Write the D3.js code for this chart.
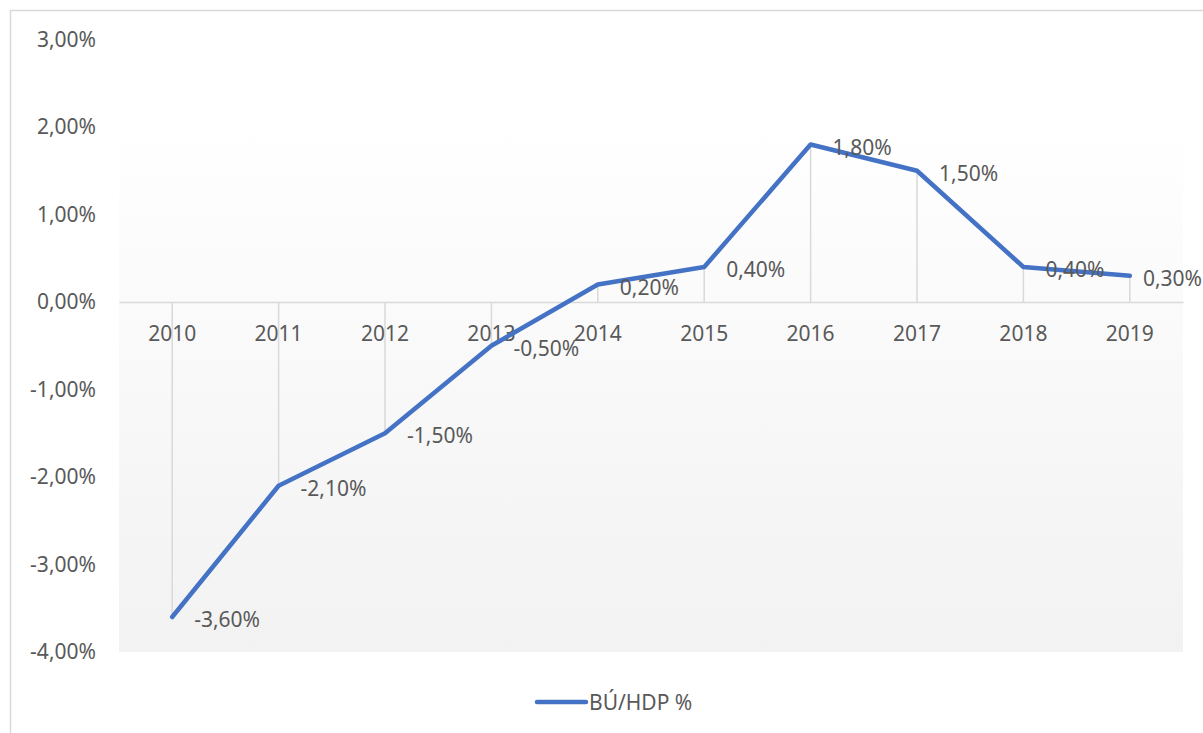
<!DOCTYPE html>
<html>
<head>
<meta charset="utf-8">
<script src="https://cdn.jsdelivr.net/npm/d3@7"></script>
<style>
  body { margin: 0; background: #fff; }
  text { font-family: "Noto Sans", "Open Sans", sans-serif; fill: #595959; }
</style>
</head>
<body>
<div id="chart"></div>
<script>
// Data
var years = ['2010', '2011', '2012', '2013', '2014', '2015', '2016', '2017', '2018', '2019'];
var values = [-3.6, -2.1, -1.5, -0.5, 0.2, 0.4, 1.8, 1.5, 0.4, 0.3];
var yTicks = [3, 2, 1, 0, -1, -2, -3, -4];
var seriesName = 'BÚ/HDP %';

// Variables
var width = 1203;
var height = 733;
var plotLeft = 119, plotRight = 1183, plotTop = 39.5, plotBottom = 652;
var lineColor = '#4472c4';
var gridColor = '#d9d9d9';

// 1.5 -> "1,50%", plain hyphen for negatives
function fmt(v) {
  return (v < 0 ? '-' : '') + Math.abs(v).toFixed(2).replace('.', ',') + '%';
}

var svg = d3.select('#chart').append('svg')
    .attr('width', width)
    .attr('height', height);

// outer chart border
svg.append('rect')
    .attr('x', 10.5).attr('y', 10.5)
    .attr('width', 1200).attr('height', 730)
    .attr('fill', '#fff')
    .attr('stroke', gridColor)
    .attr('stroke-width', 1.5);

var x = d3.scaleBand()
    .domain(years)
    .range([plotLeft, plotRight]);

var y = d3.scaleLinear()
    .domain([-4, 3])
    .range([plotBottom, plotTop]);

// plot area gradient
var grad = svg.append('defs').append('linearGradient')
    .attr('id', 'bg')
    .attr('x1', 0).attr('y1', 0).attr('x2', 0).attr('y2', 1);
grad.append('stop').attr('offset', '0%').attr('stop-color', '#ffffff');
grad.append('stop').attr('offset', '100%').attr('stop-color', '#f2f2f2');

svg.append('rect')
    .attr('x', plotLeft)
    .attr('y', 118)
    .attr('width', plotRight - plotLeft)
    .attr('height', plotBottom - 118)
    .attr('fill', 'url(#bg)');

// y axis labels (no axis line)
var yAxis = d3.axisLeft(y)
    .tickValues(yTicks)
    .tickSize(0)
    .tickPadding(0)
    .tickFormat(fmt);

var yg = svg.append('g')
    .attr('transform', 'translate(96,0)')
    .call(yAxis);
yg.select('.domain').remove();
yg.selectAll('text')
    .style('font-size', '21px')
    .attr('fill', '#595959');

// drop lines from each point to the category axis
svg.selectAll('.drop')
    .data(values)
    .enter().append('line')
    .attr('class', 'drop')
    .attr('x1', function(d, i) { return x(years[i]) + x.bandwidth() / 2; })
    .attr('x2', function(d, i) { return x(years[i]) + x.bandwidth() / 2; })
    .attr('y1', y(0))
    .attr('y2', function(d) { return y(d); })
    .attr('stroke', gridColor)
    .attr('stroke-width', 1.5);

// category axis at zero
var xAxis = d3.axisBottom(x).tickSize(0).tickPadding(0);
var xg = svg.append('g')
    .attr('transform', 'translate(0,' + y(0) + ')')
    .call(xAxis);
xg.select('.domain')
    .attr('stroke', gridColor)
    .attr('stroke-width', 1.5);
xg.selectAll('text')
    .style('font-size', '21px')
    .attr('fill', '#595959')
    .attr('dy', '0')
    .attr('y', 31)
    .attr('dominant-baseline', 'central');

// the line
var line = d3.line()
    .x(function(d, i) { return x(years[i]) + x.bandwidth() / 2; })
    .y(function(d) { return y(d); });

svg.append('path')
    .datum(values)
    .attr('d', line)
    .attr('fill', 'none')
    .attr('stroke', lineColor)
    .attr('stroke-width', 4.5)
    .attr('stroke-linejoin', 'round')
    .attr('stroke-linecap', 'round');

// data labels, right of each point
svg.selectAll('.lbl')
    .data(values)
    .enter().append('text')
    .attr('class', 'lbl')
    .style('font-size', '21px')
    .attr('dominant-baseline', 'central')
    .attr('y', function(d) { return y(d) + 2; })
    .text(function(d) { return fmt(d); })
    .attr('x', function(d, i) {
      var px = x(years[i]) + x.bandwidth() / 2 + 22;
      var w = this.getComputedTextLength();
      return Math.min(px, width - 1 - w);
    });

// legend
var legend = svg.append('g').attr('transform', 'translate(537,702)');
legend.append('line')
    .attr('x1', 0).attr('x2', 49)
    .attr('stroke', lineColor)
    .attr('stroke-width', 4.5)
    .attr('stroke-linecap', 'round');
legend.append('text')
    .attr('x', 52)
    .attr('dominant-baseline', 'central')
    .style('font-size', '21px')
    .text(seriesName);
</script>
</body>
</html>
